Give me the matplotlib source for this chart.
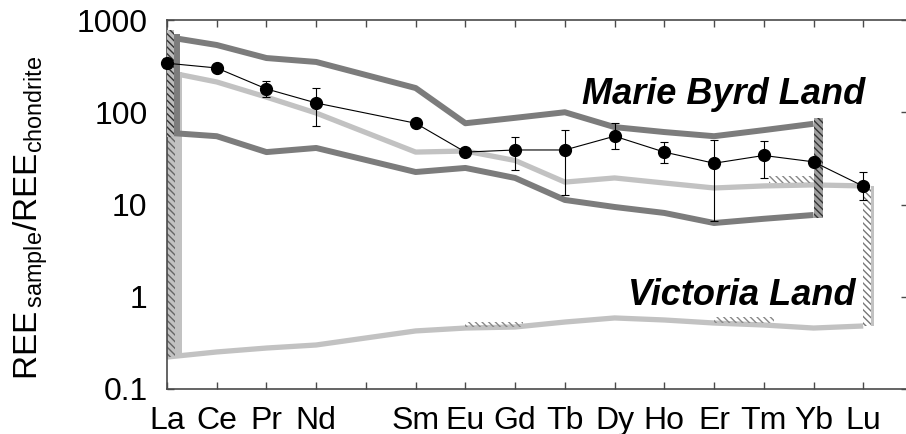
import numpy as np
import matplotlib
matplotlib.use("Agg")
import matplotlib.pyplot as plt
from matplotlib.patches import Rectangle

plt.rcParams.update({
    "font.family": ["Liberation Sans", "DejaVu Sans"],
    "mathtext.fontset": "custom",
    "mathtext.rm": "Liberation Sans",
    "hatch.linewidth": 1.0,
})

ELEMENTS = ["La", "Ce", "Pr", "Nd", "Pm", "Sm", "Eu", "Gd", "Tb", "Dy",
            "Ho", "Er", "Tm", "Yb", "Lu"]
TICK_LABELS = ["La", "Ce", "Pr", "Nd", "", "Sm", "Eu", "Gd", "Tb", "Dy",
               "Ho", "Er", "Tm", "Yb", "Lu"]

# sample average with error range
SAMPLE_EL = ["La", "Ce", "Pr", "Nd", "Sm", "Eu", "Gd", "Tb", "Dy", "Ho",
             "Er", "Tm", "Yb", "Lu"]
SAMPLE_VAL = [340, 302, 179, 126, 76, 37, 39, 39, 55, 37, 28, 34, 29, 15.8]
SAMPLE_LO = [300, 285, 146, 71, 70, 34, 23.7, 12.7, 40, 28, 6.6, 19.4, 26, 11.2]
SAMPLE_HI = [390, 330, 218, 183, 83, 41, 54, 64, 76, 47.6, 50, 48.8, 32, 22.5]

# Marie Byrd Land envelope
MBL_EL = ["La", "Ce", "Pr", "Nd", "Sm", "Eu", "Gd", "Tb", "Dy", "Ho", "Er",
          "Tm", "Yb"]
MBL_UP = [655, 536, 387, 351, 183, 76, 87, 100, 69, 61, 55, 64, 75]
MBL_LO = [60, 55, 37, 41, 22.5, 24.9, 19.4, 11.2, 9.4, 8.1, 6.3, 7.0, 7.7]

# Victoria Land envelope
VL_EL = ["La", "Ce", "Pr", "Nd", "Sm", "Eu", "Gd", "Tb", "Dy", "Ho", "Er",
         "Tm", "Yb", "Lu"]
VL_UP = [273, 213, 146, 98, 37, 38, 30, 17.5, 19.4, 17.1, 15.1, 15.9, 16.3, 15.9]
VL_LO = [0.222, 0.252, 0.278, 0.30, 0.426, 0.458, 0.470, 0.532, 0.589, 0.560,
         0.519, 0.494, 0.458, 0.482]

# small hatched strips (x0, x1, y0, y1)
VL_STRIPS = [(6.0, 7.15, 0.47, 0.53), (11.0, 12.2, 0.515, 0.608),
             (12.1, 13.0, 17.1, 20.4)]

DARK = "#7c7c7c"
LIGHT = "#c2c2c2"
AXC = "#4a4a4a"


def pos(names):
    return np.array([ELEMENTS.index(n) for n in names], dtype=float)


fig = plt.figure(figsize=(9.06, 4.34), dpi=100)
ax = fig.add_axes([167 / 906, 45 / 434, 741 / 906, 369 / 434])
ax.set_yscale("log")
ax.set_xlim(0, 14.9)
ax.set_ylim(0.1, 1000)

# Victoria Land
xv = pos(VL_EL)
ax.plot(xv, VL_UP, color=LIGHT, lw=3.8, solid_capstyle="butt", zorder=2)
ax.plot(xv, VL_LO, color=LIGHT, lw=3.8, solid_capstyle="butt", zorder=2)
ax.add_patch(Rectangle((0.0, VL_LO[0]), 0.30, VL_UP[0] - VL_LO[0],
                       facecolor=LIGHT, edgecolor="none", zorder=2))
ax.add_patch(Rectangle((0.0, VL_LO[0]), 0.16, VL_UP[0] - VL_LO[0],
                       facecolor="none", edgecolor="#666666", lw=0,
                       hatch="\\\\\\\\\\", zorder=2.1))
ax.add_patch(Rectangle((xv[-1], VL_LO[-1]), 0.22, VL_UP[-1] - VL_LO[-1],
                       facecolor=LIGHT, edgecolor="none", zorder=2))
ax.add_patch(Rectangle((xv[-1], VL_LO[-1]), 0.16, VL_UP[-1] - VL_LO[-1],
                       facecolor="white", edgecolor="#777777", lw=0,
                       hatch="\\\\\\\\\\", zorder=2.1))
for x0, x1, y0, y1 in VL_STRIPS:
    ax.add_patch(Rectangle((x0, y0), x1 - x0, y1 - y0, facecolor="none",
                           edgecolor="#888888", lw=0, hatch="\\\\\\\\\\",
                           zorder=2.1))

# Marie Byrd Land
xm = pos(MBL_EL)
ax.plot(xm, MBL_UP, color=DARK, lw=4.3, solid_capstyle="butt", zorder=3)
ax.plot(xm, MBL_LO, color=DARK, lw=4.3, solid_capstyle="butt", zorder=3)
ax.plot([0.2, 0.2], [MBL_LO[0], MBL_UP[0]], color=DARK, lw=4.3, zorder=3)
ax.add_patch(Rectangle((0.0, MBL_LO[0] * 0.9), 0.14,
                       MBL_UP[0] * 1.2 - MBL_LO[0] * 0.9,
                       facecolor="#bdbdbd", edgecolor="#333333", lw=0,
                       hatch="\\\\\\\\\\", zorder=3.1))
ax.add_patch(Rectangle((xm[-1], MBL_LO[-1] * 0.92), 0.2,
                       MBL_UP[-1] * 1.16 - MBL_LO[-1] * 0.92,
                       facecolor="#a0a0a0", edgecolor="#333333", lw=0,
                       hatch="\\\\\\\\\\", zorder=3.1))

# sample data
xs = pos(SAMPLE_EL)
vals = np.array(SAMPLE_VAL)
yerr = [vals - np.array(SAMPLE_LO), np.array(SAMPLE_HI) - vals]
ax.errorbar(xs, vals, yerr=yerr, fmt="-o", color="black", lw=0.8, ms=8.5,
            elinewidth=0.8, capsize=3, capthick=0.8, zorder=5, clip_on=False)

ax.text(11.2, 154, "Marie Byrd Land", fontsize=26, fontweight="bold",
        fontstyle="italic", ha="center", va="center", zorder=6)
ax.text(11.55, 1.04, "Victoria Land", fontsize=26, fontweight="bold",
        fontstyle="italic", ha="center", va="center", zorder=6)

ax.set_xticks(range(len(ELEMENTS)))
ax.set_xticklabels(TICK_LABELS)
ax.set_yticks([0.1, 1, 10, 100, 1000])
ax.set_yticklabels(["0.1", "1", "10", "100", "1000"])
ax.minorticks_off()
ax.tick_params(axis="both", direction="in", top=True, right=True, length=5,
               width=1, color=AXC, labelsize=23)
ax.tick_params(axis="y", pad=14)
ax.tick_params(axis="x", pad=12)
for sp in ax.spines.values():
    sp.set_color(AXC)
    sp.set_linewidth(1.2)

ax.set_ylabel(r"REE$_{\,\mathrm{sample}}$/REE$_{\mathrm{chondrite}}$",
              fontsize=24)
ax.yaxis.set_label_coords(-0.158, 0.465)

fig.savefig("out.png", dpi=100)
